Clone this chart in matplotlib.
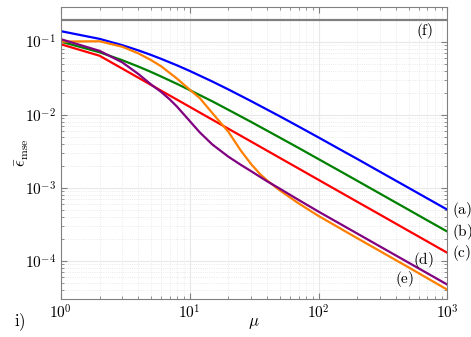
import numpy as np
import matplotlib
matplotlib.use('Agg')
import matplotlib.pyplot as plt
from matplotlib.ticker import FuncFormatter, LogLocator, NullFormatter

plt.rcParams['mathtext.fontset'] = 'cm'
plt.rcParams['font.family'] = 'DejaVu Serif'

# mu sample points and curves
mu = [1, 2, 3, 4, 5, 6, 8, 10, 15, 20, 30, 50, 70, 100, 150, 200, 300, 500, 700, 1000]
curve_a = [0.139, 0.109, 0.0893, 0.0758, 0.0658, 0.0581, 0.0472, 0.0397, 0.0284, 0.0221,
           0.0153, 0.0095, 0.00688, 0.00487, 0.00327, 0.00247, 0.00165, 0.000994, 0.000711, 0.000499]
curve_b = [0.1, 0.0714, 0.0556, 0.0455, 0.0385, 0.0333, 0.0263, 0.0217, 0.0152, 0.01163,
           0.00794, 0.00485, 0.0035, 0.00246, 0.00165, 0.00124, 0.000828, 0.000498, 0.000356, 0.00025]
curve_c = [0.092, 0.064, 0.0427, 0.032, 0.0256, 0.0213, 0.016, 0.0128, 0.00853, 0.0064,
           0.00427, 0.00256, 0.00183, 0.00128, 0.000853, 0.00064, 0.000427, 0.000256, 0.000183, 0.000128]

mu_d = [1, 2, 3, 4, 5, 6, 7, 8, 10, 12, 15, 20, 25, 30, 40, 50, 70, 100, 200, 500, 1000]
curve_d = [0.108, 0.0747, 0.052, 0.036, 0.026, 0.0205, 0.0162, 0.0128, 0.0082, 0.0057, 0.0039,
           0.00265, 0.00205, 0.00168, 0.00122, 0.00097, 0.00068, 0.00047, 0.000235, 0.000094, 0.000047]

mu_e = [1, 2, 3, 4, 5, 6, 8, 10, 12, 15, 20, 25, 30, 35, 40, 50, 70, 100, 200, 500, 1000]
curve_e = [0.1, 0.101, 0.085, 0.069, 0.056, 0.046, 0.031, 0.022, 0.0168, 0.0105, 0.0058, 0.0032,
           0.0021, 0.00155, 0.00125, 0.00092, 0.00061, 0.00041, 0.000203, 0.000081, 0.00004]

mu_f = [1, 1000]
curve_f = [0.2, 0.2]

fig = plt.figure(figsize=(4.71, 3.37), dpi=100)
ax = fig.add_axes([0.129, 0.113, 0.821, 0.867])

ax.plot(mu_f, curve_f, color='#808080', lw=1.6)
ax.plot(mu, curve_a, color='#0000ff', lw=1.6)
ax.plot(mu, curve_b, color='#008000', lw=1.6)
ax.plot(mu, curve_c, color='#ff0000', lw=1.6)
ax.plot(mu_e, curve_e, color='#ff7f00', lw=1.6)
ax.plot(mu_d, curve_d, color='#800080', lw=1.6)

ax.set_xscale('log')
ax.set_yscale('log')
ax.set_xlim(1, 1000)
ax.set_ylim(3e-5, 0.3)

fmt = FuncFormatter(lambda v, p: r'$10^{%d}$' % round(np.log10(v)))
ax.xaxis.set_major_formatter(fmt)
ax.yaxis.set_major_formatter(fmt)
ax.xaxis.set_minor_locator(LogLocator(subs=np.arange(2, 10)))
ax.yaxis.set_minor_locator(LogLocator(subs=np.arange(2, 10), numticks=20))
ax.xaxis.set_minor_formatter(NullFormatter())
ax.yaxis.set_minor_formatter(NullFormatter())
ax.tick_params(which='both', direction='in', top=True, right=True, color='#808080',
               labelsize=11)
ax.tick_params(which='major', length=4)
ax.tick_params(which='minor', length=2.5)
for s in ax.spines.values():
    s.set_color('#808080')

ax.grid(True, which='major', color='#e8e8e8', lw=0.8)
ax.grid(True, which='minor', color='#e4e4e4', lw=0.6, ls=':')

ax.text(0.5, -0.079, r'$\mu$', fontsize=12, ha='center', va='center', transform=ax.transAxes)
ax.text(-0.1, 0.5, r'$\bar{\epsilon}_{\rm mse}$', fontsize=12, ha='center', va='center',
        rotation=90, transform=ax.transAxes)

ax.text(1298, 4.93e-4, r'$\rm (a)$', fontsize=11, ha='center', va='center', clip_on=False)
ax.text(1298, 2.5e-4, r'$\rm (b)$', fontsize=11, ha='center', va='center', clip_on=False)
ax.text(1298, 1.28e-4, r'$\rm (c)$', fontsize=11, ha='center', va='center', clip_on=False)
ax.text(647, 1.03e-4, r'$\rm (d)$', fontsize=11, ha='center', va='center')
ax.text(469, 5.66e-5, r'$\rm (e)$', fontsize=11, ha='center', va='center')
ax.text(659, 0.14, r'$\rm (f)$', fontsize=11, ha='center', va='center')
fig.text(20 / 471, 1 - 322 / 337, r'$\rm i)$', fontsize=12, ha='center', va='center')

fig.savefig('out.png', dpi=100)
